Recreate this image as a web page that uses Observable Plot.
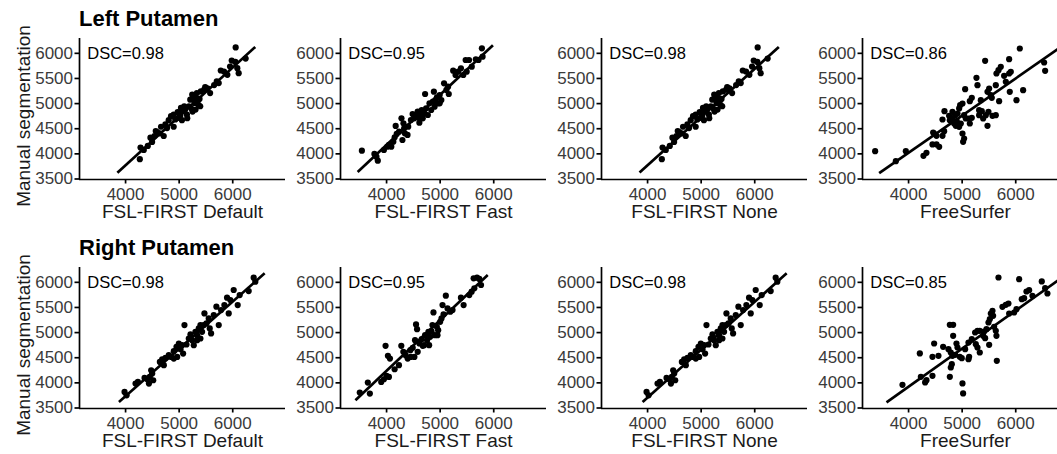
<!DOCTYPE html>
<html>
<head>
<meta charset="utf-8">
<script src="https://cdn.jsdelivr.net/npm/d3@7"></script>
<script src="https://cdn.jsdelivr.net/npm/@observablehq/plot@0.6"></script>
<style>
  body { margin: 0; background: #fff; font-family: "Liberation Sans", Arial, sans-serif; }
  #wrap { position: relative; width: 1057px; height: 454px; overflow: hidden; background: #fff; }
  .panel { position: absolute; width: 290px; height: 230px; }
  .panel svg { overflow: visible; }
  .title { position: absolute; font-weight: bold; font-size: 22px; line-height: 1; color: #000; white-space: nowrap; }
  .ytitle { position: absolute; font-size: 19px; color: #1a1a1a; white-space: nowrap;
            transform: translate(-50%, -50%) rotate(-90deg); }
  g[aria-label="x-axis tick label"], g[aria-label="y-axis tick label"] { fill: #3a3a3a; }
</style>
</head>
<body>
<div id="wrap"></div>
<script>
// ---------- text / ticks ----------
const rowTitles = ["Left Putamen", "Right Putamen"];
const yTitle = "Manual segmentation";
const methods = ["FSL-FIRST Default", "FSL-FIRST Fast", "FSL-FIRST None", "FreeSurfer"];
const dscLeft = ["DSC=0.98", "DSC=0.95", "DSC=0.98", "DSC=0.86"];
const dscRight = ["DSC=0.98", "DSC=0.95", "DSC=0.98", "DSC=0.85"];
const dscAt = [4000, 6000]; // annotation position (data units)
const xTicks = [4000, 5000, 6000];
const yTicks = [3500, 4000, 4500, 5000, 5500, 6000];
const xDomain = [3140, 6985];
const yDomain = [3490, 6295];

// ---------- points: [method volume, manual volume] ----------
const leftDefault = [[4266,3894],[4279,4125],[4340,4079],[4415,4158],[4495,4237],[4539,4355],[4588,4434],[4638,4408],[4712,4355],[4662,4539],[4743,4585],[4805,4671],[4848,4750],[4898,4783],[4929,4684],[4972,4829],[5021,4763],[5058,4849],[5052,4671],[5114,4881],[5145,4783],[5182,4947],[5207,5079],[5244,5178],[5269,5131],[5288,5013],[5306,4881],[5250,4842],[5331,5079],[5362,4974],[5405,5243],[5467,5276],[5529,5303],[5578,5210],[5653,5368],[5739,5408],[5777,5658],[5838,5638],[5900,5572],[5981,5855],[6049,5829],[6086,5704],[6111,5605],[6055,6118],[6241,5895],[5950,5737],[4898,4539],[4774,4513],[5151,4710],[5034,4914],[5232,4895],[5331,5210],[4464,4322],[4563,4454],[4990,4717],[5095,4947],[5380,5092],[5486,5329],[5393,4947],[5300,5112],[5702,5441]];
const leftFast = [[3539,4064],[3811,3944],[3836,3865],[3773,3998],[4044,4177],[4088,4144],[4126,4243],[4151,4329],[4189,4396],[4170,4555],[4233,4442],[4278,4707],[4315,4608],[4341,4409],[4328,4508],[4404,4541],[4454,4674],[4486,4793],[4517,4707],[4549,4773],[4580,4840],[4593,4727],[4631,4773],[4656,4873],[4675,4707],[4707,4807],[4738,4906],[4770,4773],[4719,5191],[4801,5006],[4833,4873],[4864,5039],[4883,5238],[4909,5072],[4940,5125],[4959,5006],[4991,5171],[5022,5072],[5073,5403],[5117,5271],[5161,5191],[5243,5655],[5287,5569],[5338,5635],[5388,5702],[5432,5569],[5495,5635],[5476,5867],[5539,5867],[5590,5735],[5666,5881],[5716,5867],[5779,6100],[5792,5934],[4612,4621],[4391,4376],[4296,4276],[4013,4144],[3950,4077],[4896,4939],[4991,5006],[5148,5337]];
const leftNone = leftDefault; // reads the same as the Default panel
const leftFS = [[3376,4054],[3949,4054],[3762,3855],[4278,3961],[4334,4021],[4446,4187],[4521,4187],[4571,4140],[4477,4405],[4521,4359],[4633,4359],[4664,4452],[4633,4684],[4670,4850],[4819,4704],[4869,4770],[4913,4803],[4944,4903],[4962,4969],[5006,5002],[5037,4770],[4975,4604],[5006,4405],[5037,4306],[5018,4240],[4882,4558],[4900,4651],[5118,4704],[5143,4604],[5180,4717],[5056,5287],[5143,5049],[5180,5115],[5267,5513],[5286,5367],[5348,5068],[5317,4770],[5367,4850],[5392,4704],[5441,4770],[5473,4558],[5491,4837],[5566,4757],[5628,4770],[5429,5851],[5473,5234],[5504,5300],[5535,5168],[5553,5115],[5628,5367],[5640,5599],[5678,5665],[5721,5731],[5783,5552],[5815,5433],[5877,5884],[5877,5599],[5908,5632],[5889,5234],[5690,5049],[6014,5068],[6138,5267],[6076,6096],[6530,5818],[6549,5652],[4819,4837],[4770,4671],[4851,4604],[4944,4538],[4757,4757],[5068,4704],[5317,4870],[4459,4425]];

const rightDefault = [[3981,3819],[4019,3752],[4186,3985],[4230,4018],[4354,4098],[4404,4072],[4436,3985],[4453,4118],[4497,4184],[4478,4251],[4516,4052],[4640,4417],[4683,4470],[4714,4351],[4745,4497],[4807,4550],[4851,4517],[4900,4630],[4950,4717],[4994,4783],[4963,4517],[5025,4670],[5074,4583],[5099,5149],[5137,4763],[5180,4883],[5211,4963],[5242,4850],[5273,4750],[5304,5016],[5335,4949],[5366,5082],[5397,5149],[5428,5016],[5472,5382],[5509,5182],[5552,5282],[5596,4983],[5646,5348],[5695,5515],[5739,5149],[5782,5448],[5844,5548],[5894,5694],[5925,5382],[5956,5648],[6018,5847],[6093,5548],[6130,5747],[6298,5827],[6391,6093],[6422,6013],[5397,4883],[5056,4750],[4900,4483],[5335,4850],[5459,5149],[5571,5082]];
const rightFast = [[3500,3806],[3650,4005],[3688,3786],[3900,4018],[3950,4072],[4000,4138],[4044,4118],[3981,4736],[4025,4537],[4063,4484],[4150,4271],[4231,4351],[4275,4736],[4313,4617],[4356,4550],[4394,4484],[4444,4650],[4488,4697],[4519,4517],[4531,4850],[4550,5162],[4569,5069],[4581,4617],[4613,4783],[4656,4870],[4675,4736],[4719,4949],[4756,4850],[4781,5016],[4813,4916],[4838,5029],[4856,5149],[4875,5402],[4900,4949],[4938,5116],[4963,5049],[5000,5215],[5025,5282],[5063,5362],[5106,5734],[5044,5548],[5138,5481],[5188,5415],[5231,5448],[5388,5694],[5438,5548],[5544,5747],[5588,5814],[5625,6080],[5688,6093],[5731,6067],[5638,5880],[5763,5947],[4700,4750],[4450,4517],[4950,4949],[4794,4750]];
const rightNone = rightDefault; // reads the same as the Default panel
const rightFS = [[3886,3961],[4229,4120],[4309,4008],[4334,4054],[4446,4140],[4210,4585],[4446,4518],[4558,4538],[4477,4783],[4645,4717],[4770,5155],[4832,5155],[4832,4936],[4745,4671],[4788,4604],[4819,4538],[4869,4558],[4913,4704],[4956,4518],[4993,4492],[5118,4472],[5130,4518],[4788,4306],[4807,4372],[5006,3988],[5018,3789],[4770,4120],[5056,4671],[5118,4803],[5180,4870],[5242,5002],[5286,5035],[5329,5035],[5255,4770],[5286,4704],[5329,4604],[5392,4936],[5429,4889],[5454,5068],[5491,5201],[5516,5267],[5535,5380],[5566,5433],[5597,5115],[5640,4936],[5628,5035],[5504,4757],[5647,4439],[5578,5334],[5678,6096],[5815,5552],[5864,5579],[5752,5513],[5877,5380],[5970,5400],[6014,5466],[6063,6063],[6113,5665],[6157,5685],[6200,5818],[6250,5844],[6312,5731],[6486,6017],[6549,5884],[6592,5778],[4894,4783],[5410,5022]];

// ---------- fitted lines: [x1, y1, x2, y2] ----------
const fitLeft = [[3847,3625,6420,6127],[3460,3640,5985,6160],[3850,3628,6450,6127],[3451,3615,6842,6125]];
const fitRight = [[3876,3619,6596,6180],[3419,3653,5888,6146],[3907,3619,6596,6180],[3588,3610,6906,6125]];

const rows = [
  {title: rowTitles[0], sets: [leftDefault, leftFast, leftNone, leftFS], fits: fitLeft, dsc: dscLeft},
  {title: rowTitles[1], sets: [rightDefault, rightFast, rightNone, rightFS], fits: fitRight, dsc: dscRight}
];

const wrap = document.getElementById("wrap");
const font = '"Liberation Sans", Arial, sans-serif';
const plain = d3.format("d");

function panel(points, fit, dsc, xlabel) {
  const data = points.map(([x, y]) => ({x, y}));
  const fitData = [{x1: fit[0], y1: fit[1], x2: fit[2], y2: fit[3]}];
  return Plot.plot({
    width: 290, height: 230,
    marginLeft: 79, marginRight: 5, marginTop: 38, marginBottom: 51,
    style: {background: "transparent", fontFamily: font, overflow: "visible"},
    x: {domain: xDomain, label: null},
    y: {domain: yDomain, label: null},
    marks: [
      Plot.axisX({ticks: xTicks, tickFormat: plain, tickSize: 4.5, tickPadding: 3.5, fontSize: 17, strokeWidth: 1.7, label: null}),
      Plot.axisY({ticks: yTicks, tickFormat: plain, tickSize: 4.5, tickPadding: 2, fontSize: 17, strokeWidth: 1.7, label: null}),
      Plot.ruleX([xDomain[0]], {stroke: "black", strokeWidth: 1.7}),
      Plot.ruleY([yDomain[0]], {stroke: "black", strokeWidth: 1.7}),
      Plot.dot(data, {x: "x", y: "y", r: 3.1, fill: "black", stroke: "none"}),
      Plot.link(fitData, {x1: "x1", y1: "y1", x2: "x2", y2: "y2", stroke: "black", strokeWidth: 2.7}),
      Plot.text([{x: dscAt[0], y: dscAt[1], t: dsc}], {x: "x", y: "y", text: "t", fontSize: 16.5, fill: "black", textAnchor: "middle"}),
      Plot.text([xlabel], {text: d => d, frameAnchor: "bottom", dy: 38, fontSize: 19, fill: "#1a1a1a"})
    ]
  });
}

const colLeft = [0, 261, 522, 783];
const rowTop = [0, 229];
const titleTop = [8.4, 236.6];
const yTitleCenter = [116, 345];

rows.forEach((row, r) => {
  const t = document.createElement("div");
  t.className = "title";
  t.textContent = row.title;
  t.style.left = "79px";
  t.style.top = titleTop[r] + "px";
  wrap.appendChild(t);

  row.sets.forEach((pts, c) => {
    const div = document.createElement("div");
    div.className = "panel";
    div.style.left = colLeft[c] + "px";
    div.style.top = rowTop[r] + "px";
    div.appendChild(panel(pts, row.fits[c], row.dsc[c], methods[c]));
    wrap.appendChild(div);
  });

  const yt = document.createElement("div");
  yt.className = "ytitle";
  yt.textContent = yTitle;
  yt.style.left = "24px";
  yt.style.top = yTitleCenter[r] + "px";
  wrap.appendChild(yt);
});
</script>
</body>
</html>
